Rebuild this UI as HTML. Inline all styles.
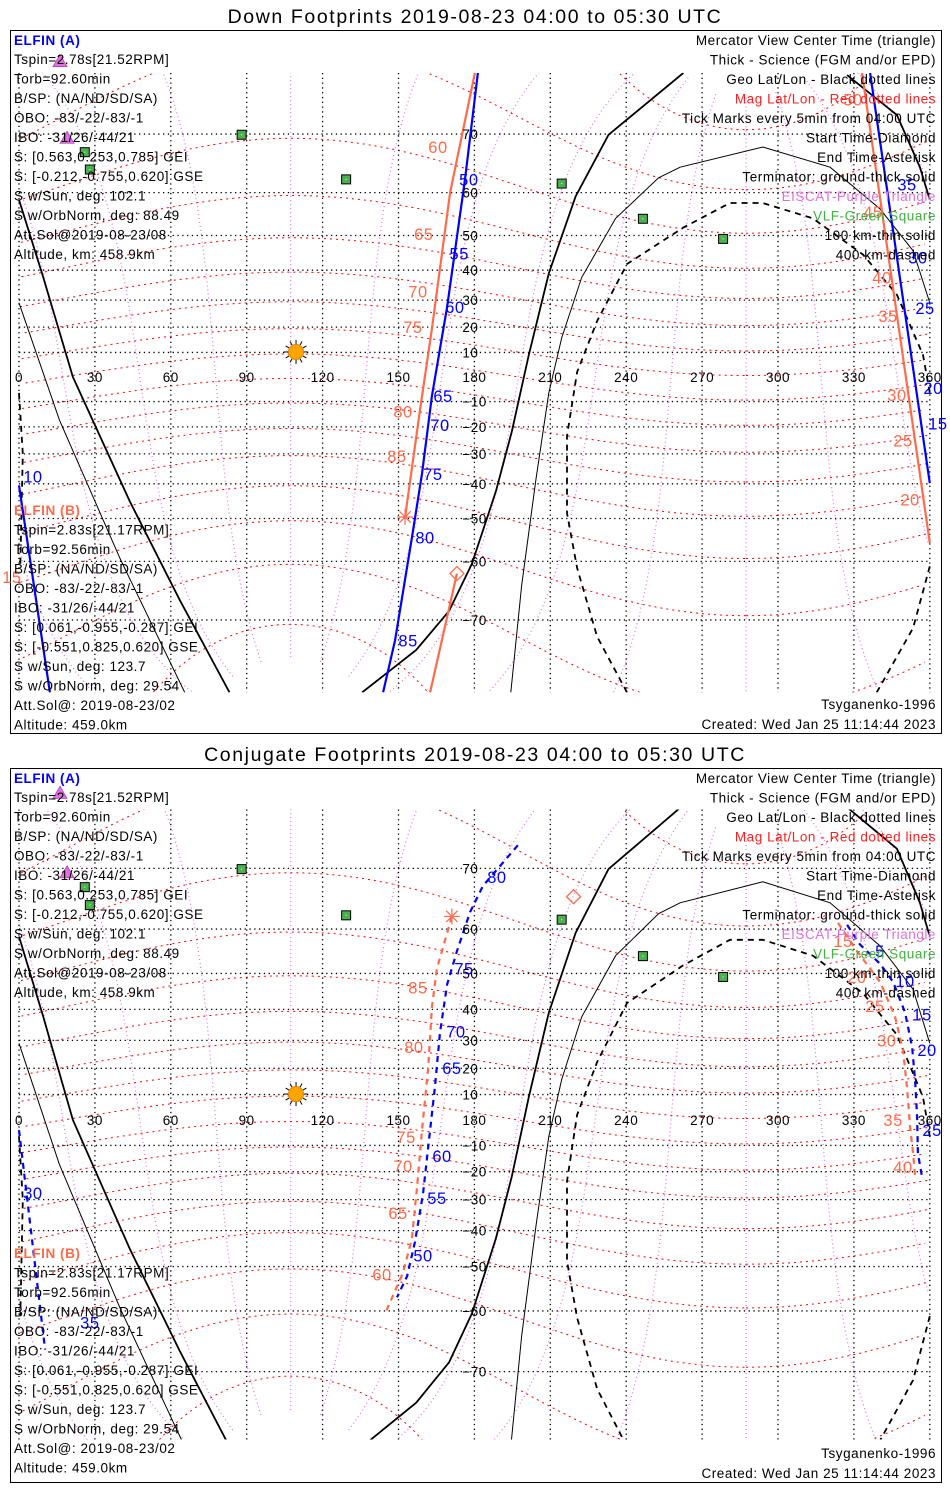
<!DOCTYPE html>
<html><head><meta charset="utf-8"><title>ELFIN Footprints</title>
<style>
html,body{margin:0;padding:0;background:#fff;overflow:hidden;width:950px;height:1500px;position:relative;}
svg{position:absolute;left:0;top:0;display:block;font-family:"Liberation Sans",sans-serif;overflow:hidden;}
</style></head>
<body>
<svg id="chart" width="950" height="1500" viewBox="0 0 950 1500" xmlns="http://www.w3.org/2000/svg"></svg>
<script>
// ---- data (lon, lat in degrees) ----
const latTicks = [70,60,50,40,30,20,10,-10,-20,-30,-40,-50,-60,-70];
const lonTicks = [0,30,60,90,120,150,180,210,240,270,300,330,360];
const vlfLon = [88,26,28,129.3,214.5,246.6,278.3];
const vlfLat = [69.9,67.3,64.4,62.6,61.8,54.2,49.1];
const eiscatLon = [16.2,19];
const eiscatLat = [78,69.4];
const sunLon = [109.5];
const sunLat = [10.2];
// terminator ground (thick)
const termThickA = [[0,58.5],[9.5,38],[21.3,0],[43.8,-45.3],[63.5,-67],[83.2,-78]];
const termThickB = [[135.6,-78],[157,-73.8],[170,-68.7],[179,-60.5],[188.5,-42.3],[194.8,-21.8],[201.5,9],[209.4,39],[220,59.2],[233,69.9],[262.6,77]];
const termThickC = [[327.3,76.8],[347,72.5],[356.1,64.8],[360,58.5]];
// 100 km (thin)
const termThinA = [[0,29],[16,-17.4],[40,-59.5],[65.5,-78]];
const termThinB = [[194.4,-78],[198.7,-64.5],[204.3,-38.7],[209.4,-6.5],[214.5,15.8],[222.4,37.7],[235.8,54.3],[252.8,62.9],[261.3,64.8],[294,68.1],[320.6,64.8],[340.3,56.5],[353.4,45.8],[360,29]];
// 400 km (dashed)
const termDashA = [[0,-6.5],[1.5,-30],[0.5,-61]];
const termDashB = [[240.3,-78],[228.5,-72.2],[220.6,-61.3],[216.6,-48.6],[216.6,-23.5],[220.6,2],[228.5,22.3],[240.3,41.9],[262.5,52],[281,57.8],[294,57.8],[313.8,54.3],[333.6,44.7],[347,31.9],[357.3,9],[360,-6.5]];
const termDashC = [[360,-61],[353.4,-71.1],[339,-78]];

// Panel 1 (down footprints)
const p1BlueLon = [181.4,176.3,169.2,163.2,159.3,155.3,148.6,143.9];
const p1BlueLat = [77,62.6,27.5,-7.8,-36.8,-54.8,-72.7,-78];
const p1BlueLblTxt = ["50","55","60","65","70","75","80","85"];
const p1BlueLblLon = [177.8,174,172.3,167.6,166.4,163.6,160.5,153.8];
const p1BlueLblLat = [62.6,45,27.5,-7.8,-19.3,-36.8,-54.8,-72.7];
const p1OrgLon = [180.2,170.4,163.2,158.5,152.6];
const p1OrgLat = [77,60,19.3,-13.4,-49.6];
const p1OrgLblTxt = ["60","65","70","75","80","85"];
const p1OrgLblLon = [165.6,160,157.7,155.7,151.8,149.4];
const p1OrgLblLat = [68.1,50.4,33,20,-14,-30.8];
const p1Org2Lon = [173.1,162.5];
const p1Org2Lat = [-62.4,-78];
const p1BlueRLon = [336.4,360];
const p1BlueRLat = [77,-39.8];
const p1BlueRLblTxt = ["35","30","25","20","15"];
const p1BlueRLblLon = [351,355.3,358.1,361.3,363.2];
const p1BlueRLblLat = [61.6,43.8,27.1,-4.5,-18.6];
const p1OrgRLon = [333.2,360];
const p1OrgRLat = [77,-56];
const p1OrgRLblTxt = ["50","45","40","35","30","25","20"];
const p1OrgRLblLon = [329.6,337.5,341.1,343.5,347,349.4,352.2];
const p1OrgRLblLat = [74.3,55.8,37.7,24.2,-7.3,-25.2,-44.7];
const p1BlueLLon = [0,12.2];
const p1BlueLLat = [-40.5,-78];

// Panel 2 (conjugate footprints)
const p2BlueLon = [197.2,183.4,178.3,173.1,169.2,166.4,164.4,161.7,159.7,156.5,153.4,149.4];
const p2BlueLat = [72.9,67.5,63.2,55.3,47.1,32.6,12.8,-11,-28,-43.4,-52.4,-57.2];
const p2BlueLblTxt = ["80","75","70","65","60","55","50"];
const p2BlueLblLon = [188.9,175.9,172.7,171.1,167.2,165.2,159.7];
const p2BlueLblLat = [68.8,51.3,33,20.2,-14,-29.5,-47.1];
const p2OrgLon = [171.1,165.2,163.2,161.7,159.3,157.3,155.3,151.8,144.7];
const p2OrgLat = [62.4,51.3,40.7,19.8,-4,-25.8,-42.3,-51.5,-60.5];
const p2OrgLblTxt = ["85","80","75","70","65","60"];
const p2OrgLblLon = [157.7,156.1,153,151.8,149.8,143.5];
const p2OrgLblLat = [46.3,27.7,-6.7,-17.9,-34.5,-52];
const p2DiamondLon = [219.2];
const p2DiamondLat = [65.8];
const p2BlueRLon = [327.3,332.4,340.3,345.5,350.2,353,354.2,355,355.3,356.9];
const p2BlueRLat = [60.8,56.8,52.4,47.8,39.1,27.7,15.6,1.2,-13,-21.9];
const p2BlueRLblTxt = ["5","10","15","20","25"];
const p2BlueRLblLon = [340.3,350.2,356.9,358.9,360.9];
const p2BlueRLblLat = [55.4,48,38.5,26.6,-4];
const p2OrgRLon = [323.7,331.2,340.3,346.2,349.4,351,352.2,353.4,354.2];
const p2OrgRLat = [61.2,55.4,47.8,37.9,26.6,12.8,-2.8,-13,-21.9];
const p2OrgRLblTxt = ["15","20","25","30","35","40"];
const p2OrgRLblLon = [325.7,331.2,338.3,343,345.5,349.4];
const p2OrgRLblLat = [57.6,49.1,41,30,0,-18.3];
const p2BlueLLon = [0,10.3];
const p2BlueLLat = [-4,-66.8];
const p2BlueLLblTxt = ["30","35"];
const p2BlueLLblLon = [5.5,28];
const p2BlueLLblLat = [-27.7,-62.2];

const leftA = ["Tspin=2.78s[21.52RPM]","Torb=92.60min","B/SP: (NA/ND/SD/SA)","OBO: -83/-22/-83/-1","IBO: -31/26/-44/21","S: [0.563,0.253,0.785] GEI","S: [-0.212,-0.755,0.620] GSE","S w/Sun, deg: 102.1","S w/OrbNorm, deg: 88.49","Att.Sol@2019-08-23/08","Altitude, km: 458.9km"];
const leftB = ["Tspin=2.83s[21.17RPM]","Torb=92.56min","B/SP: (NA/ND/SD/SA)","OBO: -83/-22/-83/-1","IBO: -31/26/-44/21","S: [0.061,-0.955,-0.287] GEI","S: [-0.551,0.825,0.620] GSE","S w/Sun, deg: 123.7","S w/OrbNorm, deg: 29.54","Att.Sol@: 2019-08-23/02","Altitude: 459.0km"];
const rightTxt = ["Mercator View Center Time (triangle)","Thick - Science (FGM and/or EPD)","Geo Lat/Lon - Black dotted lines","Mag Lat/Lon - Red dotted lines","Tick Marks every 5min from 04:00 UTC","Start Time-Diamond","End Time-Asterisk","Terminator: ground-thick solid","EISCAT-Purple Triangle","VLF-Green Square","100 km-thin solid","400 km-dashed"];
const rightCol = ["#000","#000","#000","#ff2020","#000","#000","#000","#000","#e070e0","#40b040","#000","#000"];

const NS = "http://www.w3.org/2000/svg";
const svg = document.getElementById("chart");
const BLUE = "#0000ff", ORG = "#ff6a4a";
function mk(tag, attrs, parent){
  const e = document.createElementNS(NS, tag);
  for (const k in attrs) e.setAttribute(k, attrs[k]);
  (parent||svg).appendChild(e);
  return e;
}
function makeAxes(eq, R){
  return {
    x: lon => 19 + lon*2.53,
    y: lat => eq - R*Math.log(Math.tan(Math.PI/4 + lat*Math.PI/360))
  };
}
function magToGeo(mlat, mlon){
  const d = Math.PI/180, th = (90-80.6)*d, pl = 287.4*d;
  const x = Math.cos(mlat*d)*Math.cos(mlon*d), y = Math.cos(mlat*d)*Math.sin(mlon*d), z = Math.sin(mlat*d);
  const x1 = x*Math.cos(th) + z*Math.sin(th), z1 = -x*Math.sin(th) + z*Math.cos(th);
  const x2 = x1*Math.cos(pl) - y*Math.sin(pl), y2 = x1*Math.sin(pl) + y*Math.cos(pl);
  let lon = Math.atan2(y2, x2)/d; if (lon < 0) lon += 360;
  return [lon, Math.asin(Math.max(-1,Math.min(1,z1)))/d];
}
function polyPts(ax, lons, lats){
  return lons.map((lo,i)=> ax.x(lo).toFixed(1)+","+ax.y(lats[i]).toFixed(1)).join(" ");
}
function drawPanel(p){
  const ax = makeAxes(p.eq, p.R);
  const g = mk("g", {});
  
  
  const fr = mk("rect", {x:10.5, y:p.top+0.5, width:931, height:p.h, fill:"none", stroke:"#000", "stroke-width":1}, g);
  
  
  const tt = mk("text", {x:475, y:p.top-7, "text-anchor":"middle", "font-size":19.5, "letter-spacing":1.6, fill:"#000"}, g);
  tt.textContent = p.title;
  
  
  const cid = "clip"+p.id;
  const defs = mk("defs", {}, g);
  const cp = mk("clipPath", {id:cid}, defs);
  const yT = ax.y(p.latTop), yB = ax.y(p.latBot);
  mk("rect", {x:17, y:yT, width:916, height:yB-yT}, cp);
  const map = mk("g", {"clip-path":"url(#"+cid+")"}, g);
  
  
  for (let ml=0; ml<360; ml+=30){
    let seg=[], prev=null;
    const flush=()=>{ if(seg.length>1){ const l=mk("polyline",{points:seg.join(" "),fill:"none",stroke:"#e070e0","stroke-width":1.2,"stroke-dasharray":"1 3"},map);   } seg=[]; };
    for (let mlat=-84; mlat<=84; mlat+=2){
      const [lo,la]=magToGeo(mlat, ml);
      if (prev!==null && Math.abs(lo-prev)>180) flush();
      seg.push(ax.x(lo).toFixed(1)+","+ax.y(la).toFixed(1)); prev=lo;
    }
    flush();
  }
  for (let mlat=-80; mlat<=80; mlat+=10){
    let seg=[], prev=null;
    const flush=()=>{ if(seg.length>1){ const l=mk("polyline",{points:seg.join(" "),fill:"none",stroke:"#ff0000","stroke-width":1,"stroke-dasharray":"2 4"},map);   } seg=[]; };
    for (let ml=0; ml<=360; ml+=3){
      const [lo,la]=magToGeo(mlat, ml);
      if (prev!==null && Math.abs(lo-prev)>180) flush();
      seg.push(ax.x(lo).toFixed(1)+","+ax.y(la).toFixed(1)); prev=lo;
    }
    flush();
  }
  latTicks.forEach(la=>{
    const l = mk("line",{x1:19,x2:930,y1:ax.y(la),y2:ax.y(la),stroke:"#000","stroke-width":1.3,"stroke-dasharray":"1.3 3.5"},map);
    
    
  });
  lonTicks.forEach(lo=>{
    const l = mk("line",{x1:ax.x(lo),x2:ax.x(lo),y1:yT,y2:yB,stroke:"#000","stroke-width":1.3,"stroke-dasharray":"1.3 3.5"},map);
    
    
  });
  lonTicks.forEach(lo=>{
    const t = mk("text",{x:ax.x(lo),y:p.eq+5,"text-anchor":"middle","font-size":13.5,"letter-spacing":0.5,fill:"#000"},g);
    t.textContent = String(lo);
    
    
  });
  latTicks.forEach(la=>{
    const t = mk("text",{x:ax.x(180)-12,y:ax.y(la)+5,"font-size":13.5,"letter-spacing":0.5,fill:"#000"},g);
    t.textContent = la<0 ? "\u2212"+(-la) : String(la);
    
    
  });
  const term = (arr, w, dash, nm)=>{
    const l = mk("polyline",{points:polyPts(ax, arr.map(a=>a[0]), arr.map(a=>a[1])),fill:"none",stroke:"#000","stroke-width":w,"stroke-dasharray":dash||"none"},map);
    
    
  };
  [termThickA,termThickB,termThickC].forEach(a=>term(a,1.8,null,'terminator-ground'));
  [termThinA,termThinB].forEach(a=>term(a,1,null,'terminator-100km'));
  [termDashA,termDashB,termDashC].forEach(a=>term(a,1.8,"6 5",'terminator-400km'));
  vlfLon.forEach((lo,i)=>{
    const s = mk("rect",{x:ax.x(lo)-4.5,y:ax.y(vlfLat[i])-4.5,width:9,height:9,fill:"#4caf50",stroke:"#000","stroke-width":1},g);
    
    
    mk("rect",{x:ax.x(lo)-0.5,y:ax.y(vlfLat[i])-0.5,width:1,height:1,fill:"#fff"},g);
  });
  sunLon.forEach((lo,i)=>{
    const cx=ax.x(lo), cy=ax.y(sunLat[i]);
    const sg = mk("g",{},g);
    
    
    for (let k=0;k<12;k++){ const a=k*Math.PI/6; mk("line",{x1:cx+8*Math.cos(a),y1:cy+8*Math.sin(a),x2:cx+12*Math.cos(a),y2:cy+12*Math.sin(a),stroke:"#000","stroke-width":1},sg); }
    mk("circle",{cx:cx,cy:cy,r:7.5,fill:"#ffa500",stroke:"#e08000"},sg);
  });
  p.tracks.forEach(tr=>{
    const l = mk("polyline",{points:polyPts(ax,tr.lon,tr.lat),fill:"none",stroke:tr.c,"stroke-width":2.2,"stroke-dasharray":tr.dash||"none"},map);
    
    
  });
  p.labels.forEach(lb=>{
    lb.txt.forEach((s,i)=>{
      const t = mk("text",{x:ax.x(lb.lon[i]),y:ax.y(lb.lat[i])+6,"text-anchor":"middle","font-size":16.5,"letter-spacing":0.5,fill:lb.c},g);
      t.textContent = s;
      
      
    });
  });
  p.asterisks.forEach(a=>{
    const cx=ax.x(a[0]), cy=ax.y(a[1]);
    const ag = mk("g",{stroke:ORG,"stroke-width":1.2},g);
    
    
    for (let k=0;k<4;k++){ const an=k*Math.PI/4; mk("line",{x1:cx-8*Math.cos(an),y1:cy-8*Math.sin(an),x2:cx+8*Math.cos(an),y2:cy+8*Math.sin(an)},ag); }
  });
  p.diamonds.forEach(a=>{
    const cx=ax.x(a[0]), cy=ax.y(a[1]);
    const d = mk("polygon",{points:`${cx},${cy-7} ${cx+7},${cy} ${cx},${cy+7} ${cx-7},${cy}`,fill:"none",stroke:ORG,"stroke-width":1.3},g);
    
    
  });
  eiscatLon.forEach((lo,i)=>{
    const cx=ax.x(lo), cy=ax.y(eiscatLat[i]);
    const tri = mk("polygon",{points:`${cx},${cy-7} ${cx+7},${cy+5} ${cx-7},${cy+5}`,fill:"#e070e0",stroke:"#b040b0","stroke-width":0.8},g);
    
    
  });
  const T = (x,y,s,c,anchor,nm)=>{
    const t = mk("text",{x:x,y:y,"font-size":13.5,"letter-spacing":0.55,fill:c,"text-anchor":anchor||"start"},g);
    t.textContent = s;
    
    
    return t;
  };
  const o = p.top;
  T(14,o+15,"ELFIN (A)",BLUE,"start",'elfin-a-header').setAttribute("font-weight","bold");
  leftA.forEach((s,i)=>T(14,o+34+i*19.5,s,"#000","start",'elfin-a-info'));
  T(14,o+p.bOff,"ELFIN (B)",ORG,"start",'elfin-b-header').setAttribute("font-weight","bold");
  leftB.forEach((s,i)=>T(14,o+p.bOff+19.5*(i+1),s,"#000","start",'elfin-b-info'));
  rightTxt.forEach((s,i)=>T(936,o+15+i*19.5,s,rightCol[i],"end",'legend-entry'));
  T(936,o+p.h-24,"Tsyganenko-1996","#000","end",'model-note');
  T(936,o+p.h-4,"Created: Wed Jan 25 11:14:44 2023","#000","end",'created-timestamp');
}

drawPanel({id:1,name:'down-footprints-panel',title:"Down Footprints 2019-08-23 04:00 to 05:30 UTC",top:30,h:703,eq:377,R:140,bOff:485,latTop:77,latBot:-78,
  tracks:[
    {lon:p1BlueLon,lat:p1BlueLat,c:BLUE,name:'elfin-a-track'},
    {lon:p1OrgLon,lat:p1OrgLat,c:ORG,name:'elfin-b-track'},
    {lon:p1Org2Lon,lat:p1Org2Lat,c:ORG,name:'elfin-b-track-start'},
    {lon:p1BlueRLon,lat:p1BlueRLat,c:BLUE,name:'elfin-a-track-east'},
    {lon:p1OrgRLon,lat:p1OrgRLat,c:ORG,name:'elfin-b-track-east'},
    {lon:p1BlueLLon,lat:p1BlueLLat,c:BLUE,name:'elfin-a-track-west'}],
  labels:[
    {txt:p1BlueLblTxt,lon:p1BlueLblLon,lat:p1BlueLblLat,c:BLUE,name:'elfin-a-tick-label'},
    {txt:p1OrgLblTxt,lon:p1OrgLblLon,lat:p1OrgLblLat,c:ORG,name:'elfin-b-tick-label'},
    {txt:p1BlueRLblTxt,lon:p1BlueRLblLon,lat:p1BlueRLblLat,c:BLUE,name:'elfin-a-tick-label'},
    {txt:p1OrgRLblTxt,lon:p1OrgRLblLon,lat:p1OrgRLblLat,c:ORG,name:'elfin-b-tick-label'},
    {txt:["10"],lon:[5.5],lat:[-37.7],c:BLUE,name:'elfin-a-tick-label'},
    {txt:["15"],lon:[-2.8],lat:[-63],c:ORG,name:'elfin-b-tick-label'}],
  asterisks:[[p1OrgLon[p1OrgLon.length-1],p1OrgLat[p1OrgLat.length-1]]],
  diamonds:[[p1Org2Lon[0],p1Org2Lat[0]]]
});
drawPanel({id:2,name:'conjugate-footprints-panel',title:"Conjugate Footprints 2019-08-23 04:00 to 05:30 UTC",top:768,h:714,eq:1120,R:145,bOff:490,latTop:76.6,latBot:-77.4,
  tracks:[
    {lon:p2BlueLon,lat:p2BlueLat,c:BLUE,dash:"6 5",name:'elfin-a-track'},
    {lon:p2OrgLon,lat:p2OrgLat,c:ORG,dash:"6 5",name:'elfin-b-track'},
    {lon:p2BlueRLon,lat:p2BlueRLat,c:BLUE,dash:"6 5",name:'elfin-a-track-east'},
    {lon:p2OrgRLon,lat:p2OrgRLat,c:ORG,dash:"6 5",name:'elfin-b-track-east'},
    {lon:p2BlueLLon,lat:p2BlueLLat,c:BLUE,dash:"6 5",name:'elfin-a-track-west'}],
  labels:[
    {txt:p2BlueLblTxt,lon:p2BlueLblLon,lat:p2BlueLblLat,c:BLUE,name:'elfin-a-tick-label'},
    {txt:p2OrgLblTxt,lon:p2OrgLblLon,lat:p2OrgLblLat,c:ORG,name:'elfin-b-tick-label'},
    {txt:p2BlueRLblTxt,lon:p2BlueRLblLon,lat:p2BlueRLblLat,c:BLUE,name:'elfin-a-tick-label'},
    {txt:p2OrgRLblTxt,lon:p2OrgRLblLon,lat:p2OrgRLblLat,c:ORG,name:'elfin-b-tick-label'},
    {txt:p2BlueLLblTxt,lon:p2BlueLLblLon,lat:p2BlueLLblLat,c:BLUE,name:'elfin-a-tick-label'}],
  asterisks:[[p2OrgLon[0],p2OrgLat[0]]],
  diamonds:[[p2DiamondLon[0],p2DiamondLat[0]]]
});
</script>
</body></html>
